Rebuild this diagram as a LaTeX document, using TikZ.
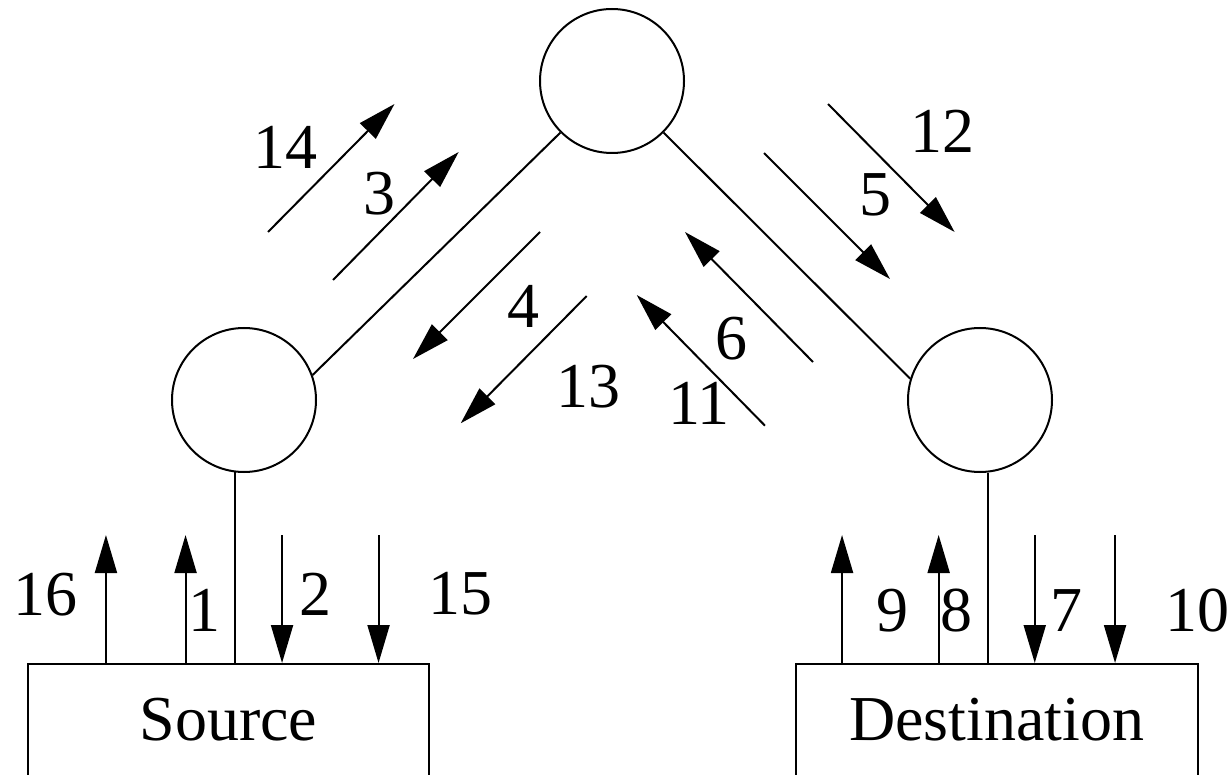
\documentclass[tikz,border=0pt]{standalone}
\usepackage{fontspec}
\setmainfont{Liberation Serif}
\usetikzlibrary{arrows.meta,positioning}
\tikzset{hop/.style={
    % the routers
    circle,draw,line width=2pt,minimum size=144pt,inner sep=0pt
  },
  host/.style={
    rectangle,draw,line width=2pt,
    minimum width=401.5pt,minimum height=120pt,
    text height=42pt,text depth=10pt,
    font=\fontsize{64pt}{70pt}\selectfont
  },
  flow/.style={-{Triangle[length=38pt,width=22pt]},line width=2pt},
  num/.style={inner sep=0pt,font=\fontsize{64pt}{70pt}\selectfont}
}

\begin{document}
\begin{tikzpicture}[x=1pt,y=-1pt,line width=2pt]
  \useasboundingbox (0,0) rectangle (1232,775);

  % nodes
  \node (top) [hop] at (612,81) {};
  \node (lhop) [hop] at (244,400) {};
  \node (rhop) [hop] at (980,400) {};
  \node (src) [host] at (228.3,724) {Source};
  \node (dst) [host] at (996.8,724) {Destination};

  % links
  \draw (top.225) -- (lhop.20);
  \draw (top.-45) -- (rhop.163);
  \draw (lhop.263) -- (lhop.263 |- src.north);
  \draw (rhop.276) -- (rhop.276 |- dst.north);

  % source side
  \draw[flow] ([xshift=79.4pt]src.north west) -- ++(0,-128);
  \draw[flow] ([xshift=159pt]src.north west) -- ++(0,-128);
  \draw[flow] ([xshift=255.5pt,yshift=128pt]src.north west) -- ([xshift=255.5pt]src.north west);
  \draw[flow] ([xshift=352pt,yshift=128pt]src.north west) -- ([xshift=352pt]src.north west);
  \node (l16) [num] at (45,595) {16};
  \node (l1) [num] at (204,610) {1};
  \node (l2) [num] at (315,594) {2};
  \node (l15) [num] at (460,594) {15};

  % destination side
  \draw[flow] ([xshift=47pt]dst.north west) -- ++(0,-128);
  \draw[flow] ([xshift=143.6pt]dst.north west) -- ++(0,-128);
  \draw[flow] ([xshift=239.7pt,yshift=128pt]dst.north west) -- ([xshift=239.7pt]dst.north west);
  \draw[flow] ([xshift=320pt,yshift=128pt]dst.north west) -- ([xshift=320pt]dst.north west);
  \node (l9) [num] at (892,611) {9};
  \node (l8) [num] at (956,611) {8};
  \node (l7) [num] at (1066,611) {7};
  \node (l10) [num] at (1197,611) {10};

  % left link
  \draw[flow] (268,232) -- (394.5,104);
  \draw[flow] (333,280) -- (458.7,152);
  \draw[flow] (540,232) -- (413,359);
  \draw[flow] (586.7,296) -- (460.7,423.3);
  \node (l14) [num] at (285,147) {14};
  \node (l3) [num] at (379,194) {3};
  \node (l4) [num] at (523,306) {4};
  \node (l13) [num] at (588,387) {13};

  % right link
  \draw[flow] (828,104) -- (954.6,232);
  \draw[flow] (764,153) -- (890,279);
  \draw[flow] (813,362) -- (685,232);
  \draw[flow] (765,425.7) -- (636.7,295);
  \node (l12) [num] at (942,131) {12};
  \node (l5) [num] at (875,195) {5};
  \node (l6) [num] at (731,339) {6};
  \node (l11) [num] at (699,403) {11};
\end{tikzpicture}
\end{document}
